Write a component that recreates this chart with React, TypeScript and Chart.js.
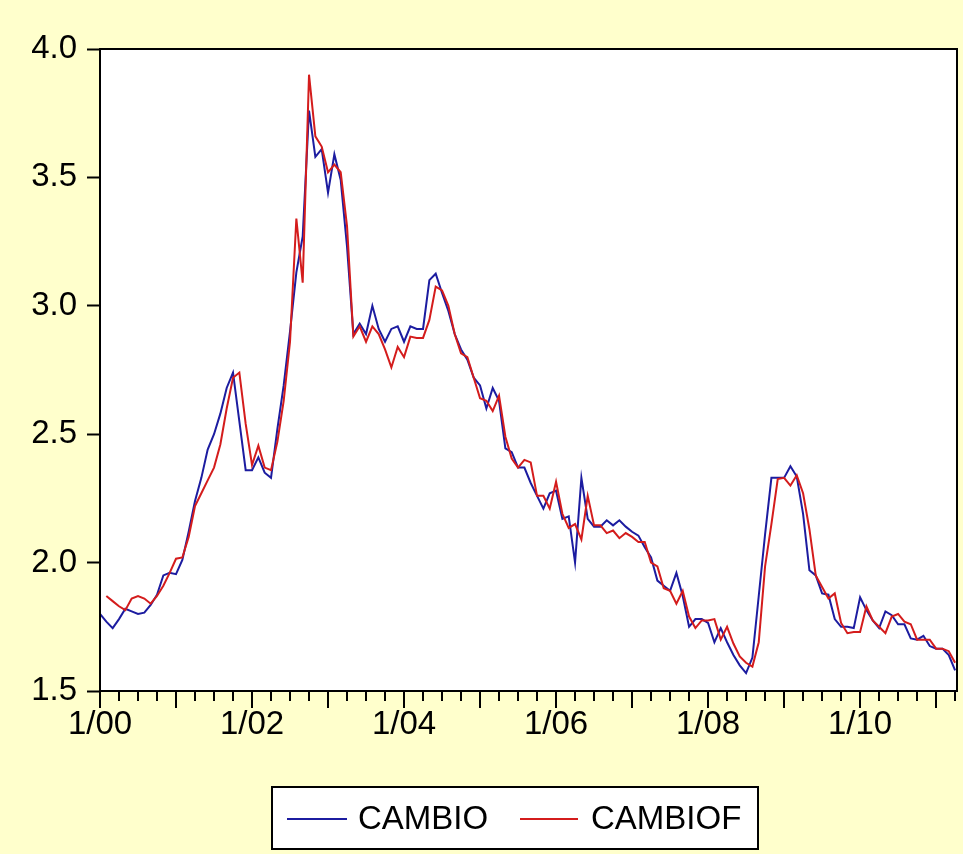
import React, { useEffect, useRef } from 'react';
import { Chart, registerables } from 'chart.js';

Chart.register(...registerables);

// Monthly observations, 2000M01 .. 2011M04 (index 0 = 1/00)
const CAMBIO: number[] = [
  1.80, 1.77, 1.745, 1.78, 1.82, 1.81, 1.80, 1.805, 1.835, 1.875,
  1.95, 1.96, 1.955, 2.01, 2.12, 2.24, 2.33, 2.44, 2.50, 2.58,
  2.68, 2.74, 2.55, 2.36, 2.36, 2.41, 2.35, 2.33, 2.52, 2.69,
  2.90, 3.13, 3.27, 3.76, 3.58, 3.61, 3.44, 3.59, 3.49, 3.23,
  2.89, 2.93, 2.89, 3.00, 2.91, 2.86, 2.91, 2.92, 2.86, 2.92,
  2.91, 2.91, 3.10, 3.125, 3.05, 2.98, 2.89, 2.83, 2.79, 2.72,
  2.69, 2.60, 2.68, 2.63, 2.445, 2.43, 2.37, 2.37, 2.31, 2.26,
  2.21, 2.27, 2.28, 2.17, 2.18, 2.00, 2.33, 2.17, 2.14, 2.14,
  2.165, 2.145, 2.165, 2.14, 2.12, 2.105, 2.06, 2.02, 1.93, 1.91,
  1.89, 1.96, 1.87, 1.75, 1.78, 1.78, 1.765, 1.69, 1.745, 1.69,
  1.64, 1.60, 1.57, 1.63, 1.87, 2.11, 2.33, 2.33, 2.33, 2.375,
  2.335, 2.19, 1.97, 1.95, 1.88, 1.875, 1.78, 1.75, 1.75, 1.745,
  1.865, 1.815, 1.775, 1.745, 1.81, 1.795, 1.76, 1.76, 1.705, 1.70,
  1.715, 1.675, 1.665, 1.665, 1.64, 1.58,
];

const CAMBIOF: (number | null)[] = [
  null, 1.87, 1.85, 1.83, 1.815, 1.86, 1.87, 1.86, 1.84, 1.87,
  1.91, 1.96, 2.015, 2.02, 2.10, 2.22, 2.27, 2.32, 2.37, 2.46,
  2.60, 2.72, 2.74, 2.54, 2.38, 2.455, 2.37, 2.36, 2.47, 2.63,
  2.86, 3.34, 3.09, 3.90, 3.66, 3.62, 3.52, 3.55, 3.52, 3.31,
  2.88, 2.92, 2.86, 2.92, 2.89, 2.83, 2.76, 2.84, 2.80, 2.88,
  2.875, 2.875, 2.945, 3.075, 3.06, 3.00, 2.89, 2.815, 2.80, 2.72,
  2.64, 2.63, 2.59, 2.65, 2.49, 2.405, 2.37, 2.40, 2.39, 2.26,
  2.26, 2.21, 2.315, 2.19, 2.135, 2.15, 2.09, 2.26, 2.145, 2.145,
  2.115, 2.125, 2.095, 2.115, 2.10, 2.08, 2.08, 2.00, 1.985, 1.90,
  1.89, 1.84, 1.89, 1.79, 1.745, 1.775, 1.775, 1.78, 1.70, 1.75,
  1.685, 1.635, 1.61, 1.595, 1.69, 1.985, 2.15, 2.325, 2.33, 2.30,
  2.34, 2.27, 2.13, 1.95, 1.905, 1.86, 1.88, 1.765, 1.725, 1.73,
  1.73, 1.83, 1.775, 1.75, 1.725, 1.79, 1.80, 1.77, 1.76, 1.70,
  1.70, 1.70, 1.665, 1.665, 1.655, 1.61,
];

const SERIES_NAMES = ['CAMBIO', 'CAMBIOF'];
const SERIES_COLORS = ['#1c1ca0', '#d41c1c'];

const X_LABEL_MONTHS = [0, 24, 48, 72, 96, 120];
const X_LABELS = ['1/00', '1/02', '1/04', '1/06', '1/08', '1/10'];

const Y_MIN = 1.5;
const Y_MAX = 4.0;
const Y_STEP = 0.5;

const BG = '#ffffcc';
const FONT = '"Liberation Sans", Arial, Helvetica, sans-serif';
const FONT_SIZE = 33;

const evPlugin = {
  id: 'evViewsFrame',
  beforeDraw(chart: any) {
    const { ctx, chartArea: a } = chart;
    ctx.save();
    ctx.fillStyle = BG;
    ctx.fillRect(0, 0, chart.width, chart.height);
    ctx.fillStyle = '#ffffff';
    ctx.fillRect(a.left, a.top, a.right - a.left, a.bottom - a.top);
    ctx.restore();
  },
  afterDraw(chart: any) {
    const { ctx, chartArea: a } = chart;
    const xs = chart.scales.x;
    ctx.save();
    // frame
    ctx.strokeStyle = '#000';
    ctx.lineWidth = 2;
    ctx.strokeRect(a.left, a.top, a.right - a.left, a.bottom - a.top);
    // x tick marks: quarterly short, yearly long
    const n = CAMBIO.length;
    ctx.beginPath();
    for (let m = 0; m < n; m += 3) {
      const px = Math.round(xs.getPixelForValue(m));
      const len = m % 12 === 0 ? 17 : 10;
      ctx.moveTo(px, a.bottom);
      ctx.lineTo(px, a.bottom + len);
    }
    ctx.stroke();

    // legend box
    const lx = 272, ly = 787, lw = 486, lh = 62;
    ctx.fillStyle = '#ffffff';
    ctx.fillRect(lx, ly, lw, lh);
    ctx.strokeRect(lx, ly, lw, lh);
    const cy = ly + 32;
    const entries = [
      { x0: 287, x1: 347, tx: 358 },
      { x0: 520, x1: 578, tx: 591 },
    ];
    chart.data.datasets.forEach((ds: any, i: number) => {
      const e = entries[i];
      ctx.strokeStyle = ds.borderColor;
      ctx.lineWidth = 2;
      ctx.beginPath();
      ctx.moveTo(e.x0, cy);
      ctx.lineTo(e.x1, cy);
      ctx.stroke();
      ctx.fillStyle = '#000';
      ctx.font = `${FONT_SIZE}px ${FONT}`;
      ctx.textBaseline = 'middle';
      ctx.textAlign = 'left';
      ctx.fillText(ds.label, e.tx, cy + 1);
    });
    ctx.restore();
  },
};

export default function App() {
  const canvasRef = useRef<HTMLCanvasElement | null>(null);

  useEffect(() => {
    const canvas = canvasRef.current;
    if (!canvas) return;
    const series = [CAMBIO, CAMBIOF];
    const chart = new Chart(canvas, {
      type: 'line',
      data: {
        datasets: series.map((arr, i) => ({
          label: SERIES_NAMES[i],
          data: arr.map((v, m) => ({ x: m, y: v })),
          borderColor: SERIES_COLORS[i],
          backgroundColor: SERIES_COLORS[i],
          borderWidth: 2,
          pointRadius: 0,
          tension: 0,
          spanGaps: false,
          order: series.length - i,
        })),
      },
      options: {
        responsive: false,
        animation: false,
        layout: { padding: { left: 0, top: 49, right: 6, bottom: 103 } },
        plugins: {
          legend: { display: false },
          tooltip: { enabled: false },
        },
        scales: {
          x: {
            type: 'linear',
            position: 'bottom',
            min: 0,
            max: CAMBIO.length - 0.7,
            grid: { display: false, drawTicks: false },
            border: { display: false },
            ticks: {
              stepSize: 3,
              autoSkip: false,
              maxRotation: 0,
              padding: 14,
              color: '#000',
              font: { family: FONT, size: FONT_SIZE },
              callback: (v: any) => {
                const idx = X_LABEL_MONTHS.indexOf(Number(v));
                return idx >= 0 ? X_LABELS[idx] : '';
              },
            },
            afterFit: (s: any) => {
              s.height = 60;
              s.paddingRight = 0;
              s.paddingLeft = 0;
            },
          },
          y: {
            min: Y_MIN,
            max: Y_MAX,
            grid: {
              display: true,
              drawOnChartArea: false,
              drawTicks: true,
              tickLength: 13,
              tickColor: '#000',
              tickWidth: 2,
            },
            border: { display: false },
            ticks: {
              stepSize: Y_STEP,
              padding: 10,
              color: '#000',
              font: { family: FONT, size: FONT_SIZE },
              callback: (v: any) => Number(v).toFixed(1),
            },
            afterFit: (s: any) => {
              s.width = 100;
              s.paddingTop = 0;
              s.paddingBottom = 0;
            },
          },
        },
      },
      plugins: [evPlugin],
    });
    return () => chart.destroy();
  }, []);

  return (
    <div style={{ position: 'absolute', left: 0, top: 0, width: 963, height: 854, background: BG }}>
      <canvas ref={canvasRef} width={963} height={854} style={{ display: 'block' }} />
    </div>
  );
}
